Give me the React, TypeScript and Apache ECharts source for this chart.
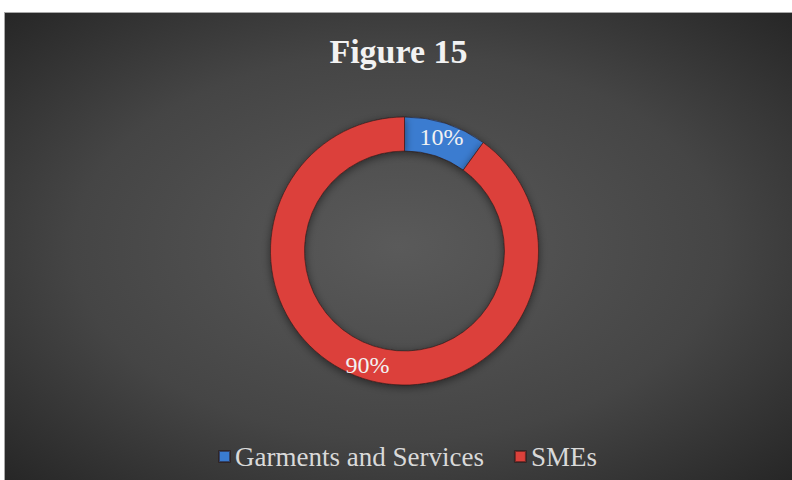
import React, { useEffect, useRef } from "react";
import * as echarts from "echarts";

const categories = ["Garments and Services", "SMEs"];
const values = [10, 90];
const colors = ["#3a7bd0", "#dc413b"];
const titleText = "Figure 15";

export default function App() {
  const ref = useRef<HTMLDivElement>(null);
  useEffect(() => {
    if (!ref.current) return;
    const chart = echarts.init(ref.current, null, { renderer: "svg" });
    chart.setOption({
      animation: false,
      backgroundColor: {
        type: "radial",
        x: 0.5,
        y: 0.5,
        r: 0.75,
        colorStops: [
          { offset: 0, color: "#5a5a5a" },
          { offset: 0.55, color: "#454545" },
          { offset: 1, color: "#222222" },
        ],
      },
      title: {
        text: titleText,
        left: "center",
        top: 16,
        textStyle: {
          fontFamily: "Liberation Serif",
          fontWeight: "bold",
          fontSize: 34,
          color: "#f2f2f2",
        },
      },
      legend: {
        bottom: 5,
        left: 208,
        itemWidth: 11,
        itemHeight: 11,
        itemGap: 30,
        icon: "rect",
        textStyle: {
          fontFamily: "Liberation Serif",
          fontSize: 27,
          color: "#d9d9d9",
        },
        data: categories,
      },
      series: [
        {
          type: "pie",
          center: [399.5, 238],
          radius: [100, 134],
          startAngle: 90,
          clockwise: true,
          avoidLabelOverlap: false,
          label: {
            show: true,
            position: "inside",
            formatter: "{d}%",
            fontFamily: "Liberation Serif",
            fontSize: 24,
            color: "#f2f2f2",
          },
          labelLine: { show: false },
          itemStyle: {
            borderColor: "rgba(40,20,20,0.55)",
            borderWidth: 1,
            shadowBlur: 8,
            shadowColor: "rgba(0,0,0,0.5)",
            shadowOffsetY: 2,
          },
          emphasis: { disabled: true },
          data: categories.map((c, i) => ({
            name: c,
            value: values[i],
            itemStyle: { color: colors[i] },
          })),
        },
      ],
    });
    return () => chart.dispose();
  }, []);
  return (
    <div
      style={{
        position: "fixed",
        left: 0,
        top: 0,
        width: 792,
        height: 480,
        background: "#ffffff",
      }}
    >
      <div
        ref={ref}
        style={{
          position: "absolute",
          left: 4,
          top: 12,
          width: 788,
          height: 468,
          borderTop: "1px solid #a8a8a8",
          borderLeft: "1px solid #a8a8a8",
          boxSizing: "border-box",
        }}
      />
    </div>
  );
}
